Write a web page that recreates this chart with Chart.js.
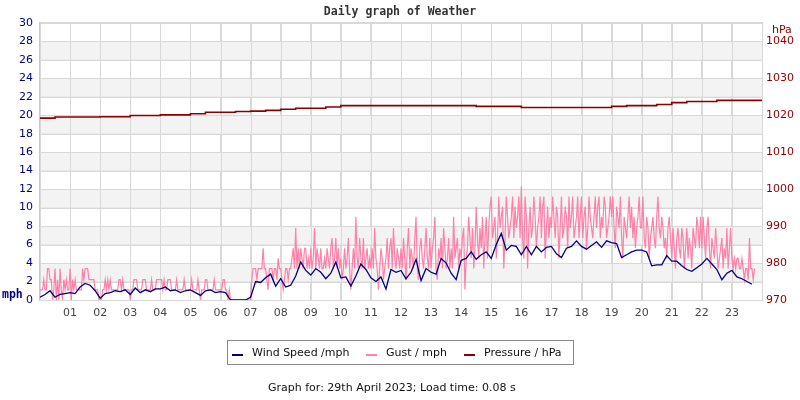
<!DOCTYPE html>
<html>
<head>
<meta charset="utf-8">
<script src="https://cdn.jsdelivr.net/npm/chart.js@4/dist/chart.umd.min.js"></script>
<style>
  html, body { margin: 0; padding: 0; background: #fff; }
  #wrap { width: 800px; height: 400px; }
</style>
</head>
<body>
<div id="wrap"><canvas id="chart" width="800" height="400"></canvas></div>
<script>
// hour labels on the x axis (0 and 24 unlabelled)
const hourLabels = ['', '01', '02', '03', '04', '05', '06', '07', '08', '09', '10', '11', '12',
  '13', '14', '15', '16', '17', '18', '19', '20', '21', '22', '23', ''];

// wind speed, mph, one value every 10 minutes
const windSpeed = [
  0.3, 0.6, 1.0, 0.3, 0.6, 0.7,
  0.8, 0.7, 1.4, 1.8, 1.6, 1.0,
  0.2, 0.7, 0.8, 1.0, 0.9, 1.1,
  0.6, 1.3, 0.8, 1.1, 0.9, 1.2,
  1.2, 1.4, 1.0, 1.1, 0.8, 1.0,
  1.1, 0.8, 0.5, 1.0, 1.1, 0.8,
  0.9, 0.8, 0, 0, 0, 0,
  0.3, 2.0, 1.9, 2.4, 2.8, 1.5,
  2.3, 1.4, 1.6, 2.6, 4.1, 3.2,
  2.7, 3.4, 3.0, 2.3, 2.9, 4.1,
  2.4, 2.5, 1.5, 2.6, 3.9, 3.3,
  2.4, 2.0, 2.5, 1.2, 3.3, 3.0,
  3.2, 2.3, 3.0, 4.4, 2.1, 3.4,
  3.0, 2.8, 4.5, 4.0, 2.9, 2.2,
  4.3, 4.5, 5.2, 4.4, 4.9, 5.2,
  4.5, 6.0, 7.2, 5.4, 5.9, 5.8,
  4.9, 5.8, 4.9, 5.8, 5.2, 5.7,
  5.8, 5.0, 4.6, 5.6, 5.8, 6.4,
  5.8, 5.5, 5.9, 6.3, 5.7, 6.4,
  6.2, 6.1, 4.6, 4.9, 5.2, 5.4,
  5.4, 5.2, 3.7, 3.8, 3.8, 4.8,
  4.2, 4.2, 3.7, 3.3, 3.1, 3.5,
  3.9, 4.5, 3.9, 3.3, 2.2, 2.9,
  3.2, 2.5, 2.3, 2.0, 1.7
];

// gust, mph, one value every 2.5 minutes (24 per hour)
const gust = [
  1.1, 1.1, 1.1, 2.2, 1.1, 1.1, 3.4, 3.4, 2.2, 2.2, 0, 1.1, 3.4, 0, 2.2, 0, 3.4, 1.1, 0, 2.2, 1.1, 2.2, 1.1, 1.1,
  3.4, 0, 2.2, 1.1, 2.2, 1.1, 1.1, 1.1, 1.1, 1.1, 3.4, 2.2, 3.4, 3.4, 3.4, 2.2, 2.2, 2.2, 2.2, 2.2, 1.1, 1.1, 1.1, 0,
  0, 0, 1.1, 1.1, 2.2, 1.1, 2.2, 1.1, 2.2, 1.1, 1.1, 1.1, 1.1, 1.1, 1.1, 2.2, 2.2, 1.1, 2.2, 1.1, 1.1, 1.1, 1.1, 1.1,
  0, 1.1, 1.1, 2.2, 2.2, 2.2, 1.1, 1.1, 1.1, 1.1, 2.2, 2.2, 2.2, 1.1, 1.1, 1.1, 1.1, 2.2, 1.1, 1.1, 1.1, 2.2, 2.2, 2.2,
  2.2, 2.2, 1.1, 2.2, 1.1, 1.1, 2.2, 2.2, 2.2, 1.1, 1.1, 1.1, 1.1, 2.2, 1.1, 1.1, 1.1, 1.1, 1.1, 2.2, 1.1, 1.1, 1.1, 1.1,
  1.1, 2.2, 1.1, 1.1, 1.1, 1.1, 2.2, 1.1, 0, 1.1, 1.1, 1.1, 2.2, 2.2, 1.1, 1.1, 1.1, 1.1, 1.1, 2.2, 1.1, 1.1, 1.1, 1.1,
  1.1, 1.1, 2.2, 2.2, 1.1, 1.1, 0, 1.1, 0, 0, 0, 0, 0, 0, 0, 0, 0, 0, 0, 0, 0, 0, 0, 0,
  0, 2.2, 3.4, 3.4, 3.4, 2.2, 3.4, 3.4, 3.4, 3.4, 5.6, 3.4, 3.4, 2.2, 1.1, 3.4, 3.4, 3.4, 2.2, 3.4, 3.4, 2.2, 4.5, 3.4,
  3.4, 2.2, 1.1, 2.2, 3.4, 3.4, 2.2, 3.4, 3.4, 4.5, 5.6, 3.4, 7.8, 3.4, 5.6, 3.4, 5.6, 4.5, 3.4, 5.6, 5.6, 3.4, 4.5, 3.4,
  5.6, 3.4, 4.5, 7.8, 3.4, 5.6, 4.5, 3.4, 5.6, 3.4, 3.4, 4.5, 3.4, 5.6, 4.5, 3.4, 5.6, 6.7, 3.4, 4.5, 6.7, 3.4, 5.6, 3.4,
  4.5, 2.2, 3.4, 5.6, 3.4, 4.5, 6.7, 3.4, 1.1, 3.4, 5.6, 3.4, 9.0, 4.5, 3.4, 6.7, 4.5, 3.4, 6.7, 3.4, 4.5, 5.6, 3.4, 4.5,
  3.4, 5.6, 3.4, 7.8, 4.5, 3.4, 1.1, 3.4, 5.6, 4.5, 2.2, 3.4, 4.5, 6.7, 3.4, 5.6, 6.7, 3.4, 7.8, 4.5, 3.4, 5.6, 4.5, 3.4,
  5.6, 3.4, 6.7, 4.5, 2.2, 5.6, 7.8, 3.4, 5.6, 4.5, 3.4, 6.7, 9.0, 3.4, 2.2, 5.6, 6.7, 4.5, 3.4, 5.6, 7.8, 4.5, 3.4, 6.7,
  3.4, 5.6, 6.7, 9.0, 3.4, 2.2, 5.6, 4.5, 6.7, 3.4, 7.8, 5.6, 3.4, 4.5, 6.7, 3.4, 5.6, 3.4, 9.0, 4.5, 5.6, 6.7, 3.4, 5.6,
  4.5, 6.7, 7.8, 1.1, 4.5, 5.6, 9.0, 6.7, 4.5, 7.8, 3.4, 5.6, 10.1, 6.7, 4.5, 7.8, 5.6, 9.0, 3.4, 6.7, 9.0, 4.5, 7.8, 10.1,
  11.2, 6.7, 7.8, 9.0, 4.5, 6.7, 11.2, 7.8, 9.0, 10.1, 3.4, 6.7, 11.2, 9.0, 6.7, 7.8, 9.0, 11.2, 6.7, 10.1, 7.8, 9.0, 11.2, 6.7,
  12.3, 6.7, 4.5, 11.2, 9.0, 3.4, 7.8, 10.1, 6.7, 7.8, 11.2, 9.0, 5.6, 7.8, 9.0, 11.2, 6.7, 10.1, 11.2, 4.5, 7.8, 10.1, 6.7, 9.0,
  7.8, 11.2, 9.0, 6.7, 10.1, 9.0, 4.5, 7.8, 11.2, 6.7, 7.8, 10.1, 9.0, 5.6, 11.2, 7.8, 9.0, 11.2, 6.7, 7.8, 9.0, 11.2, 6.7, 9.0,
  11.2, 6.7, 9.0, 10.1, 5.6, 7.8, 11.2, 9.0, 7.8, 6.7, 9.0, 11.2, 7.8, 10.1, 11.2, 6.7, 9.0, 7.8, 11.2, 10.1, 6.7, 7.8, 9.0, 11.2,
  9.0, 11.2, 7.8, 5.6, 10.1, 9.0, 7.8, 11.2, 6.7, 4.5, 9.0, 7.8, 6.7, 9.0, 11.2, 7.8, 10.1, 6.7, 9.0, 5.6, 7.8, 9.0, 11.2, 7.8,
  7.8, 11.2, 6.7, 5.6, 9.0, 7.8, 4.5, 6.7, 7.8, 9.0, 6.7, 5.6, 9.0, 11.2, 7.8, 6.7, 9.0, 7.8, 5.6, 6.7, 4.5, 7.8, 9.0, 6.7,
  4.5, 7.8, 5.6, 3.4, 6.7, 7.8, 5.6, 4.5, 7.8, 6.7, 3.4, 5.6, 7.8, 4.5, 6.7, 5.6, 3.4, 7.8, 6.7, 5.6, 9.0, 7.8, 5.6, 9.0,
  5.6, 9.0, 6.7, 4.5, 7.8, 9.0, 5.6, 3.4, 6.7, 5.6, 4.5, 7.8, 5.6, 3.4, 4.5, 5.6, 6.7, 3.4, 5.6, 4.5, 7.8, 3.4, 5.6, 7.8,
  4.5, 3.4, 4.5, 3.4, 4.5, 4.5, 3.4, 3.4, 4.5, 3.4, 2.2, 3.4, 3.4, 2.2, 6.7, 3.4, 3.4, 2.2, 3.4
];

// pressure, hPa, one value every 30 minutes
const pressure = [
  1019.2, 1019.2, 1019.5, 1019.5, 1019.5, 1019.6, 1019.6, 1019.9, 1019.9, 1020.1,
  1020.1, 1020.4, 1020.8, 1020.8, 1021.0, 1021.1, 1021.3, 1021.6, 1021.9, 1021.9,
  1022.2, 1022.6, 1022.6, 1022.6, 1022.6, 1022.6, 1022.6, 1022.6, 1022.6, 1022.6,
  1022.4, 1022.4, 1022.4, 1022.1, 1022.1, 1022.1, 1022.1, 1022.1, 1022.1, 1022.4,
  1022.6, 1022.6, 1022.9, 1023.4, 1023.7, 1023.7, 1024.0, 1024.0, 1024.0
];

const toPoints = (values, perHour) => values.map((v, i) => ({ x: i / perHour, y: v }));

const NAVY = '#000080';
const PINK = '#ff80a8';
const DARKRED = '#8b0000';

// grey bands every other 2 mph step + extra labels + legend box + footer
const decorations = {
  id: 'decorations',
  beforeDatasetsDraw(chart) {
    const { ctx, chartArea: a, scales: { y } } = chart;
    ctx.save();
    ctx.fillStyle = '#f3f3f3';
    y.ticks.forEach(t => {
      if ((t.value / 2) % 2 === 1 && t.value < y.max) {
        const top = y.getPixelForValue(t.value + 2);
        const bot = y.getPixelForValue(t.value);
        ctx.fillRect(a.left, top, a.right - a.left, bot - top);
      }
    });
    // redraw grid over the bands
    ctx.strokeStyle = '#d8d8d8';
    ctx.lineWidth = 1;
    y.ticks.forEach(t => {
      const py = Math.round(y.getPixelForValue(t.value)) + 0.5;
      ctx.beginPath();
      ctx.moveTo(a.left, py);
      ctx.lineTo(a.right, py);
      ctx.stroke();
    });
    const x = chart.scales.x;
    x.ticks.forEach(t => {
      const px = Math.round(x.getPixelForValue(t.value)) + 0.5;
      ctx.beginPath();
      ctx.moveTo(px, a.top);
      ctx.lineTo(px, a.bottom);
      ctx.stroke();
    });
    ctx.restore();
  },
  afterDraw(chart) {
    const { ctx } = chart;
    ctx.save();
    ctx.textBaseline = 'middle';
    ctx.font = 'bold 11.5px "DejaVu Sans Mono"';
    ctx.fillStyle = NAVY;
    ctx.textAlign = 'left';
    ctx.fillText('mph', 2, 295);
    ctx.font = '11px "DejaVu Sans"';
    ctx.fillStyle = DARKRED;
    ctx.fillText('hPa', 772, 30);

    // legend
    ctx.strokeStyle = '#888';
    ctx.lineWidth = 1;
    ctx.strokeRect(227.5, 340.5, 346, 24);
    chart.data.datasets.forEach((ds, i) => {
      const mx = [232, 366, 464][i];
      ctx.strokeStyle = ds.borderColor;
      ctx.lineWidth = 2;
      ctx.beginPath();
      ctx.moveTo(mx, 355);
      ctx.lineTo(mx + 11, 355);
      ctx.stroke();
      ctx.fillStyle = '#111';
      ctx.font = '11px "DejaVu Sans"';
      ctx.fillText(ds.label, mx + 20, 353);
    });

    ctx.fillStyle = '#111';
    ctx.fillText('Graph for: 29th April 2023; Load time: 0.08 s', 268, 388);
    ctx.restore();
  }
};

new Chart(document.getElementById('chart'), {
  type: 'line',
  data: {
    datasets: [
      {
        label: 'Wind Speed /mph',
        data: toPoints(windSpeed, 6),
        borderColor: NAVY,
        borderWidth: 1.3,
        yAxisID: 'y'
      },
      {
        label: 'Gust / mph',
        data: toPoints(gust, 24),
        borderColor: PINK,
        borderWidth: 1.2,
        yAxisID: 'y'
      },
      {
        label: 'Pressure / hPa',
        data: toPoints(pressure, 2),
        borderColor: DARKRED,
        borderWidth: 1.6,
        stepped: 'after',
        yAxisID: 'y2'
      }
    ]
  },
  options: {
    responsive: false,
    animation: false,
    layout: { padding: { top: 0, left: 0, right: 0, bottom: 70 } },
    elements: { point: { radius: 0 }, line: { tension: 0 } },
    plugins: {
      legend: { display: false },
      tooltip: { enabled: false },
      title: {
        display: true,
        text: 'Daily graph of Weather',
        color: '#333',
        font: { family: 'DejaVu Sans Mono', size: 11.5, weight: 'bold', lineHeight: 1.2 },
        padding: { top: 5, bottom: 4 }
      }
    },
    scales: {
      x: {
        type: 'linear',
        min: 0,
        max: 24,
        afterFit(scale) { scale.height = 30; },
        ticks: {
          stepSize: 1,
          autoSkip: false,
          maxRotation: 0,
          padding: 7,
          color: '#444',
          font: { family: 'DejaVu Sans', size: 11 },
          callback: v => hourLabels[v]
        },
        grid: { color: '#d8d8d8', drawTicks: false },
        border: { color: '#d0d0d0' }
      },
      y: {
        position: 'left',
        min: 0,
        max: 30,
        afterFit(scale) { scale.width = 40; },
        ticks: {
          stepSize: 2,
          padding: 7,
          color: NAVY,
          font: { family: 'DejaVu Sans', size: 11 }
        },
        grid: { color: '#d8d8d8', drawTicks: false },
        border: { color: '#c8c8c8', width: 2 }
      },
      y2: {
        position: 'right',
        min: 970,
        max: 1045,
        afterFit(scale) { scale.width = 38; },
        ticks: {
          stepSize: 10,
          includeBounds: false,
          padding: 4,
          color: DARKRED,
          font: { family: 'DejaVu Sans', size: 11 },
          callback: v => String(v)
        },
        grid: { drawOnChartArea: false, drawTicks: false },
        border: { color: '#d8d8d8' }
      }
    }
  },
  plugins: [decorations]
});
</script>
</body>
</html>
